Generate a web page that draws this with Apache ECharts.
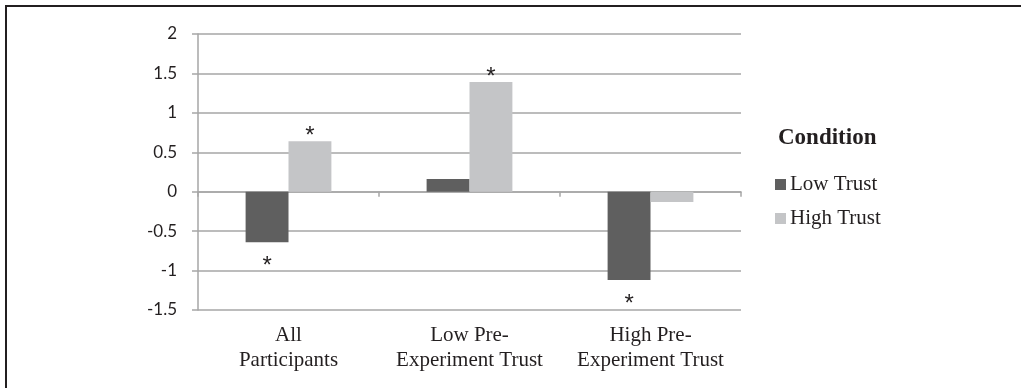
<!DOCTYPE html>
<html>
<head>
<meta charset="utf-8">
<script src="https://cdn.jsdelivr.net/npm/echarts@6/dist/echarts.min.js"></script>
<style>
html,body{margin:0;padding:0;background:#fff;}
#wrap{position:relative;width:1021px;height:388px;}
#frame{position:absolute;left:5px;top:5px;width:1016px;height:383px;border-left:2px solid #231f20;border-top:2px solid #231f20;box-sizing:border-box;}
#chart{position:absolute;left:0;top:0;width:1021px;height:388px;}
</style>
</head>
<body>
<div id="wrap"><div id="frame"></div><div id="chart"></div></div>
<script>
var categories = ['All\nParticipants', 'Low Pre-\nExperiment Trust', 'High Pre-\nExperiment Trust'];
var lowTrust = [-0.64, 0.16, -1.12];
var highTrust = [0.64, 1.39, -0.13];
var sigLow = [true, false, true];
var sigHigh = [true, true, false];
var seriesNames = ['Low Trust', 'High Trust'];
var legendTitle = 'Condition';

function mk(vals, sig) {
  return vals.map(function (v, i) {
    return {
      value: v,
      label: {
        show: sig[i],
        position: v < 0 ? 'bottom' : 'top',
        distance: v < 0 ? 12 : -7
      }
    };
  });
}

var chart = echarts.init(document.getElementById('chart'), null, {renderer: 'canvas'});
var serif = '"Liberation Serif", "Times New Roman", serif';
var txt = '#231f20';
var gridCol = '#a6a6a6';
var labelStyle = {
  formatter: '*',
  fontFamily: '"Liberation Sans", Arial, sans-serif',
  fontSize: 24,
  color: txt
};
chart.setOption({
  animation: false,
  title: {
    text: legendTitle,
    left: 773, top: 122,
    textStyle: {fontFamily: serif, fontSize: 23, fontWeight: 'bold', color: txt}
  },
  legend: {
    orient: 'vertical',
    left: 770, top: 169,
    icon: 'rect',
    itemWidth: 11, itemHeight: 11,
    itemGap: 13,
    data: seriesNames,
    textStyle: {fontFamily: serif, fontSize: 21, color: txt, padding: [0, 0, 0, -1]}
  },
  grid: {left: 198, right: 280, top: 34, bottom: 78, containLabel: false},
  xAxis: [{
    type: 'category',
    data: categories,
    position: 'bottom',
    axisLine: {show: true, onZero: true, lineStyle: {color: gridCol, width: 1.5}},
    axisTick: {show: true, length: 5, lineStyle: {color: gridCol, width: 1.5}},
    axisLabel: {show: false},
    splitLine: {show: false}
  }, {
    type: 'category',
    data: categories,
    position: 'bottom',
    axisLine: {show: false, onZero: false},
    axisTick: {show: false},
    axisLabel: {show: true, interval: 0, margin: 13, fontFamily: serif, fontSize: 21, lineHeight: 25, color: txt},
    splitLine: {show: false}
  }],
  yAxis: {
    type: 'value',
    min: -1.5, max: 2, interval: 0.5,
    axisLine: {show: true, lineStyle: {color: gridCol, width: 1.5}},
    axisTick: {show: true, length: 6, lineStyle: {color: gridCol, width: 1.5}},
    splitLine: {show: true, lineStyle: {color: gridCol, width: 1.5}},
    axisLabel: {margin: 21, fontFamily: 'Lato, "Open Sans", sans-serif', fontSize: 17, color: txt}
  },
  series: [{
    name: seriesNames[0],
    type: 'bar',
    data: mk(lowTrust, sigLow),
    barWidth: '23.7%',
    barGap: '0%',
    itemStyle: {color: '#5f5f5f'},
    label: labelStyle
  }, {
    name: seriesNames[1],
    type: 'bar',
    data: mk(highTrust, sigHigh),
    barWidth: '23.7%',
    barGap: '0%',
    itemStyle: {color: '#c4c5c7'},
    label: labelStyle
  }]
});
</script>
</body>
</html>
